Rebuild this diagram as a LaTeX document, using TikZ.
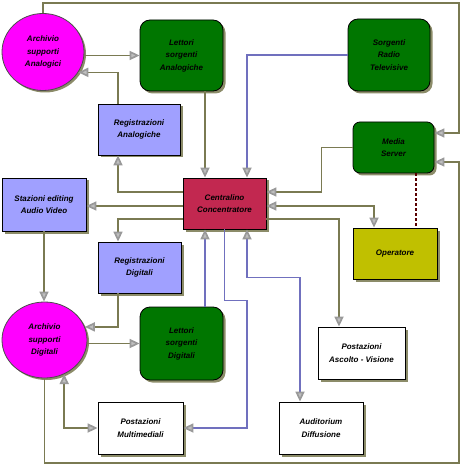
\documentclass[tikz,border=0pt]{standalone}
\usepackage{fontspec}
\setsansfont{Liberation Sans}
\usetikzlibrary{shapes.geometric, arrows.meta, positioning, calc, shadows}
\definecolor{archivioMagenta}{RGB}{255, 0, 255}
\definecolor{lettoriGreen}{RGB}{0, 118, 0}
\definecolor{registroBlue}{RGB}{160, 160, 255}
\definecolor{centraleRed}{RGB}{194, 40, 80}
\definecolor{operatoreOlive}{RGB}{192, 192, 0}
\definecolor{wireOlive}{RGB}{122, 122, 82}
\definecolor{wireBlue}{RGB}{112, 112, 190}
\definecolor{shadowOlive}{RGB}{140, 140, 105}

\begin{document}
\begin{tikzpicture}[x=1pt, y=-1pt,
    every node/.style={font=\sffamily\bfseries\itshape\fontsize{8}{12.5}\selectfont, align=center, inner sep=0pt},
    archivio/.style={ellipse, draw=black!70, line width=0.8pt, fill=archivioMagenta,
        drop shadow={shadow xshift=2pt, shadow yshift=-2pt, fill=shadowOlive, opacity=1}},
    lettori/.style={rectangle, rounded corners=10pt, draw=black, line width=0.8pt, fill=lettoriGreen,
        drop shadow={shadow xshift=2.5pt, shadow yshift=-2.5pt, fill=shadowOlive, opacity=1}},
    boxnode/.style={rectangle, draw=black, line width=0.8pt,
        drop shadow={shadow xshift=2.5pt, shadow yshift=-2.5pt, fill=shadowOlive, opacity=1}},
    wire/.style={line width=1.7pt, wireOlive},
    wireb/.style={line width=1.7pt, wireBlue},
    tip/.style={-{Triangle[length=10pt, width=9pt, color=black!40, fill=black!25]}},
    tips/.style={{Triangle[length=10pt, width=9pt, color=black!40, fill=black!25]}-{Triangle[length=10pt, width=9pt, color=black!40, fill=black!25]}}
  ]
    \useasboundingbox[fill=white] (0,0) rectangle (460,470);

    % Archivi
    \node[archivio, minimum width=82pt, minimum height=77pt] (aan) at (43,52) {Archivio\\supporti\\Analogici};
    \node[archivio, minimum width=85pt, minimum height=76pt] (adi) at (44.5,340) {Archivio\\supporti\\Digitali};

    % Lettori e sorgenti
    \node[lettori, minimum width=83pt, minimum height=71pt] (lsa) at (181.5,55.5) {Lettori\\sorgenti\\Analogiche};
    \node[lettori, minimum width=82pt, minimum height=72pt] (srt) at (389,55) {Sorgenti\\Radio\\Televisive};
    \node[lettori, rounded corners=7pt, minimum width=81pt, minimum height=51pt] (mse) at (393.5,147.5) {Media\\Server};
    \node[lettori, minimum width=83pt, minimum height=73pt] (lsd) at (181.5,343.5) {Lettori\\sorgenti\\Digitali};

    % Registrazioni e stazioni
    \node[boxnode, fill=registroBlue, minimum width=82pt, minimum height=51pt] (rea) at (139,129.5) {Registrazioni\\Analogiche};
    \node[boxnode, fill=registroBlue, minimum width=84pt, minimum height=53pt] (sed) at (44,204.5) {Stazioni editing\\Audio Video};
    \node[boxnode, fill=registroBlue, minimum width=83pt, minimum height=51pt] (rdi) at (139.5,267.5) {Registrazioni\\Digitali};

    % Centralino e operatore
    \node[boxnode, fill=centraleRed, minimum width=83pt, minimum height=51pt] (cen) at (224.5,203.5) {Centralino\\Concentratore};
    \node[boxnode, fill=operatoreOlive, minimum width=84pt, minimum height=51pt] (ope) at (395,253.5) {Operatore};

    % Postazioni
    \node[boxnode, fill=white, minimum width=85pt, minimum height=52pt] (pmu) at (140.5,428) {Postazioni\\Multimediali};
    \node[boxnode, fill=white, minimum width=87pt, minimum height=52pt] (pav) at (361.5,353) {Postazioni\\Ascolto - Visione};
    \node[boxnode, fill=white, minimum width=84pt, minimum height=52pt] (aud) at (321,428) {Auditorium\\Diffusione};

    % Angoli del perimetro
    \coordinate (topright) at (459,3);
    \coordinate (botright) at (459,463);

    % Collegamenti in alto
    \draw[wire, tip] (aan.east |- lsa.west) -- (lsa.west);
    \draw[wire, tip] ([xshift=-21pt]rea.north) |- (aan.-30);
    \draw[wire, tip] (aan.north) |- (topright) |- ([yshift=14.5pt]mse.east);
    \draw[wire, tip] ([xshift=23.5pt]lsa.south) -- ([xshift=-19.5pt]cen.north);
    \draw[wireb, tip] (srt.west) -| ([xshift=22.5pt]cen.north);
    \draw[wire, tip] (mse.west) -- ++(-31,0) |- ([yshift=11.5pt]cen.east);
    \draw[wire, tips] ([yshift=-2.5pt]cen.east) -| ([xshift=-21pt]ope.north);
    \draw[line width=1.5pt, red!35!black, dash pattern=on 3pt off 2pt] ([xshift=22.5pt]mse.south) -- ([xshift=21pt]ope.north);

    % Collegamenti a sinistra
    \draw[wire, tip] ([yshift=11.5pt]cen.west) -| ([xshift=-21pt]rea.south);
    \draw[wire, tip] ([yshift=-2.5pt]cen.west) -- ([yshift=-1.5pt]sed.east);
    \draw[wire, tip] ([yshift=-15.5pt]cen.west) -| ([xshift=-21.5pt]rdi.north);
    \draw[wire, tip] (sed.south) -- (sed.south |- adi.north);
    \draw[wire, tip] ([xshift=-21.5pt]rdi.south) |- (adi.18);
    \draw[wire, tip] (adi.east |- lsd.west) -- (lsd.west);
    \draw[wireb, tip] ([xshift=23.5pt]lsd.north) -- ([xshift=-19.5pt]cen.south);

    % Collegamenti in basso
    \draw[wireb, tips] ([xshift=-21pt]aud.north) -- ++(0,-124) -| ([xshift=22.5pt]cen.south);
    \draw[wireb, tip] (cen.south) -- ++(0,71) -- ++(22.5,0) |- (pmu.east);
    \draw[wire, tip] ([yshift=-15.5pt]cen.east) -| ([xshift=-22.5pt]pav.north);
    \draw[wire, tips] (adi.-60) |- (pmu.west);
    \draw[wire, tip] (adi.south) |- (botright) |- ([yshift=-14.5pt]mse.east);
\end{tikzpicture}
\end{document}
